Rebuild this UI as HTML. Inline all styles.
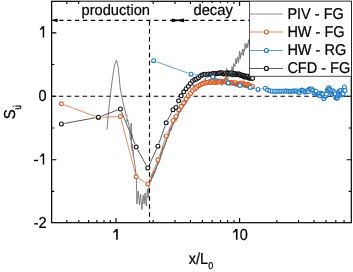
<!DOCTYPE html>
<html><head><meta charset="utf-8"><title>chart</title>
<style>html,body{margin:0;padding:0;background:#fff;overflow:hidden}body{width:353px;height:272px;font-family:"Liberation Sans",sans-serif}</style>
</head><body>
<svg width="353" height="272" viewBox="0 0 353 272" style="display:block;will-change:transform"><defs><clipPath id="c"><rect x="51.65" y="1.3" width="299.65000000000003" height="221.39999999999998"/></clipPath></defs><rect x="51.65" y="1.3" width="299.65000000000003" height="221.39999999999998" fill="none" stroke="#000" stroke-width="1.2"/><path d="M116.00 222.7 v-4.7 M116.00 1.3 v4.7 M239.60 222.7 v-4.7 M239.60 1.3 v4.7 M66.81 222.7 v-2.6 M66.81 1.3 v2.6 M78.79 222.7 v-2.6 M78.79 1.3 v2.6 M88.58 222.7 v-2.6 M88.58 1.3 v2.6 M96.85 222.7 v-2.6 M96.85 1.3 v2.6 M104.02 222.7 v-2.6 M104.02 1.3 v2.6 M110.34 222.7 v-2.6 M110.34 1.3 v2.6 M153.21 222.7 v-2.6 M153.21 1.3 v2.6 M174.97 222.7 v-2.6 M174.97 1.3 v2.6 M190.41 222.7 v-2.6 M190.41 1.3 v2.6 M202.39 222.7 v-2.6 M202.39 1.3 v2.6 M212.18 222.7 v-2.6 M212.18 1.3 v2.6 M220.45 222.7 v-2.6 M220.45 1.3 v2.6 M227.62 222.7 v-2.6 M227.62 1.3 v2.6 M233.94 222.7 v-2.6 M233.94 1.3 v2.6 M276.81 222.7 v-2.6 M276.81 1.3 v2.6 M298.57 222.7 v-2.6 M298.57 1.3 v2.6 M314.01 222.7 v-2.6 M314.01 1.3 v2.6 M325.99 222.7 v-2.6 M325.99 1.3 v2.6 M335.78 222.7 v-2.6 M335.78 1.3 v2.6 M344.05 222.7 v-2.6 M344.05 1.3 v2.6 M51.65 32.84 h4.7 M351.3 32.84 h-4.7 M51.65 96.27 h4.7 M351.3 96.27 h-4.7 M51.65 159.70 h4.7 M351.3 159.70 h-4.7 M51.65 64.55 h2.6 M351.3 64.55 h-2.6 M51.65 127.98 h2.6 M351.3 127.98 h-2.6 M51.65 191.41 h2.6 M351.3 191.41 h-2.6" stroke="#000" stroke-width="1.1" fill="none"/><rect x="79.6" y="2.0" width="70.7" height="16" fill="#fff"/><rect x="79.6" y="1.0" width="70.7" height="1.0" fill="#fff" fill-opacity="0.27"/><rect x="193" y="3.0" width="40" height="15" fill="#fff"/><g stroke="#000" stroke-width="1.15" fill="none"><line x1="50.9" y1="96.27" x2="351.3" y2="96.27" stroke-dasharray="4.5 3.417"/><line x1="149.5" y1="21.0" x2="149.5" y2="222.5" stroke-dasharray="4.5 3.465"/><line x1="51.3" y1="20.4" x2="176" y2="20.4" stroke-dasharray="4.3 3.61"/><line x1="176.5" y1="20.4" x2="250" y2="20.4" stroke-dasharray="4.35 3.62"/></g><path d="M51.6 20.35 L57.6 18.5 L57.6 22.2 Z" fill="#000"/><path d="M171.7 18.5 L171.7 22.2 L177.8 20.95 L184.1 22.2 L184.1 18.5 L177.8 19.75 Z" fill="#000"/><g clip-path="url(#c)"><polyline points="107.0,129.6 108.5,112.0 110.2,96.4 112.5,78.0 114.5,65.0 116.5,60.1 118.3,68.0 120.2,88.0 121.7,96.3 122.6,100.5 124.6,109.0 126.3,115.6 126.8,114.8 127.2,122.0 127.6,119.5 129.3,126.5 130.7,131.5 131.2,123.0 131.7,137.5 132.0,134.0 131.3,140.0 132.3,147.5 132.0,144.0 133.0,152.0 133.5,155.5 134.2,160.0 135.2,167.6 135.8,173.0 136.3,177.0 136.9,204.0 138.2,191.0 139.5,205.0 140.5,194.0 141.9,209.5 143.2,195.0 144.1,204.0 145.0,193.0 146.3,206.0 147.4,189.0 148.2,198.0 148.8,185.0 149.2,182.7 149.8,183.0 150.3,180.7 150.9,180.6 151.4,179.4 152.0,175.2 152.5,173.6 153.1,176.6 153.6,172.2 154.2,170.8 154.7,173.4 155.3,169.4 155.8,170.0 156.4,166.8 156.9,166.3 157.5,162.5 158.0,163.7 158.6,163.6 159.1,160.3 159.7,159.9 160.2,158.0 160.8,153.2 161.3,155.3 161.9,152.8 162.4,149.7 163.0,146.7 163.5,149.5 164.1,145.9 164.6,145.6 165.2,144.8 165.7,142.4 166.3,141.9 166.8,137.6 167.4,138.2 167.9,135.1 168.5,136.4 169.0,134.8 169.6,129.5 170.1,128.5 170.7,127.6 171.2,130.2 171.8,126.2 172.3,126.0 172.9,123.0 173.4,122.8 174.0,120.9 174.5,120.0 175.1,120.5 175.6,119.7 176.2,120.7 176.7,118.8 177.3,118.7 177.8,116.8 178.4,115.9 178.9,112.7 179.5,109.1 180.0,112.0 180.6,111.9 181.1,110.9 181.7,108.4 182.2,108.2 182.8,105.5 183.3,107.2 183.9,105.5 184.4,103.5 185.0,101.7 185.5,103.9 186.1,103.6 186.6,99.2 187.2,101.1 187.7,98.7 188.3,96.8 188.8,96.6 189.4,97.7 189.9,97.3 190.5,93.3 191.0,95.1 191.6,92.3 192.1,90.1 192.7,91.7 193.2,90.8 193.8,84.4 194.3,86.0 194.9,86.7 195.4,85.8 196.0,90.2 196.5,90.7 197.1,85.6 197.6,85.8 198.2,85.8 198.7,85.5 199.3,84.7 199.8,86.4 200.4,82.1 200.9,83.7 201.5,81.3 202.0,83.6 202.6,83.6 203.1,80.7 203.7,82.2 204.2,81.7 204.8,83.1 205.3,78.1 205.9,83.9 206.4,81.5 207.0,81.1 207.5,80.1 208.1,82.6 208.6,80.5 209.2,79.6 209.7,82.4 210.3,78.8 210.8,80.2 211.4,80.6 211.9,79.5 212.5,79.6 213.0,80.9 213.6,79.8 214.1,82.5 214.7,80.9 215.2,77.6 215.8,79.8 216.3,82.4 216.9,79.0 217.4,81.6 218.0,80.4 218.5,79.1 219.1,80.1 219.6,80.3 220.2,80.2 220.7,79.6 221.3,85.1 221.8,83.0 222.4,85.3 222.9,80.0 223.5,82.5 224.0,81.3 224.6,79.8 225.1,77.3 225.7,80.5 226.0,84.7 226.5,74.1 227.5,83.3 228.6,71.4 229.4,76.1 230.4,71.0 231.1,75.3 232.0,66.6 233.1,71.0 233.8,63.5 234.9,66.6 235.9,58.7 236.5,63.8 237.5,57.1 238.5,62.7 239.6,51.2 240.1,59.2 241.1,52.6 241.8,55.2 242.6,49.0 243.4,55.5 244.0,49.1 244.5,51.2 245.1,43.4 246.1,48.6 247.0,43.5 247.7,47.5 248.6,39.8 249.3,44.3 250.0,39.8" fill="none" stroke="#717171" stroke-width="0.9" stroke-linejoin="round"/><polyline points="226.3,74.0 226.5,68.4 226.9,75.0" fill="none" stroke="#717171" stroke-width="0.8" stroke-linejoin="round"/><polyline points="129.6,131.5 130.4,139.5 131.0,137.5 131.4,146.0 132.2,151.0 132.9,149.5 133.2,157.0" fill="none" stroke="#717171" stroke-width="0.8" stroke-linejoin="round"/><polyline points="150.3,182.0 151.3,179.6 152.3,177.2 153.3,174.8 154.3,172.4 155.3,170.0 156.3,167.6 157.3,165.3 158.3,162.9 159.3,160.4 160.3,157.5 161.3,154.7 162.3,151.8 163.3,148.9 164.3,146.1 165.3,143.2 166.3,140.3 167.3,137.5 168.3,135.1 169.3,132.8 170.3,130.5 171.3,128.2 172.3,125.9 173.3,123.6 174.3,121.3 175.3,120.0 176.3,118.7 177.3,117.0 178.3,114.3 179.3,111.5 180.3,110.1 181.3,108.8 182.3,107.5 183.3,106.2 184.3,104.9 185.3,103.3 186.3,101.6 187.3,100.1 188.3,98.5 189.3,97.0 190.3,95.6 191.3,94.5" fill="none" stroke="#717171" stroke-width="1.2" stroke-linejoin="round"/><path d="M64.1 104.9L95.7 116.5M101.3 117.4L117.5 116.6M121.1 119.3L135.5 174.0M138.7 178.3L145.3 182.5M148.9 181.3L156.8 162.5M158.9 157.1L165.2 138.7M167.4 133.3L171.8 123.1M176.9 113.8L177.5 112.4" fill="none" stroke="#dc5a22" stroke-width="0.7"/><g fill="#fff" stroke="#dc5a22" stroke-width="1.12"><circle cx="61.4" cy="103.8" r="1.95"/><circle cx="98.4" cy="117.5" r="1.95"/><circle cx="120.4" cy="116.5" r="1.95"/><circle cx="136.2" cy="176.8" r="1.95"/><circle cx="147.8" cy="184.0" r="1.95"/><circle cx="157.9" cy="159.8" r="1.95"/><circle cx="166.2" cy="136.0" r="1.95"/><circle cx="173.0" cy="120.4" r="1.95"/><circle cx="175.9" cy="116.5" r="1.95"/><circle cx="178.6" cy="109.7" r="1.95"/><circle cx="181.2" cy="106.3" r="1.95"/><circle cx="183.7" cy="102.8" r="1.95"/><circle cx="186.1" cy="99.0" r="1.95"/><circle cx="188.4" cy="95.7" r="1.95"/><circle cx="190.5" cy="93.4" r="1.95"/><circle cx="192.6" cy="90.6" r="1.95"/><circle cx="194.7" cy="88.5" r="1.95"/><circle cx="196.6" cy="87.3" r="1.95"/><circle cx="198.5" cy="85.7" r="1.95"/><circle cx="200.3" cy="84.8" r="1.95"/><circle cx="202.1" cy="83.8" r="1.95"/><circle cx="203.8" cy="83.4" r="1.95"/><circle cx="205.4" cy="82.4" r="1.95"/><circle cx="207.0" cy="82.4" r="1.95"/><circle cx="208.6" cy="81.9" r="1.95"/><circle cx="210.1" cy="82.6" r="1.95"/><circle cx="211.5" cy="82.2" r="1.95"/><circle cx="213.0" cy="81.3" r="1.95"/><circle cx="214.4" cy="82.6" r="1.95"/><circle cx="215.7" cy="82.6" r="1.95"/><circle cx="217.1" cy="82.1" r="1.95"/><circle cx="218.3" cy="82.0" r="1.95"/><circle cx="219.6" cy="81.3" r="1.95"/><circle cx="220.8" cy="81.0" r="1.95"/><circle cx="222.0" cy="81.9" r="1.95"/><circle cx="223.2" cy="81.2" r="1.95"/><circle cx="224.4" cy="81.5" r="1.95"/><circle cx="225.5" cy="81.7" r="1.95"/><circle cx="226.6" cy="81.4" r="1.95"/><circle cx="227.7" cy="82.2" r="1.95"/><circle cx="228.8" cy="82.3" r="1.95"/><circle cx="229.8" cy="83.1" r="1.95"/><circle cx="230.8" cy="82.6" r="1.95"/><circle cx="231.8" cy="83.0" r="1.95"/><circle cx="232.8" cy="82.8" r="1.95"/><circle cx="233.8" cy="83.2" r="1.95"/><circle cx="234.7" cy="82.9" r="1.95"/><circle cx="235.6" cy="82.7" r="1.95"/><circle cx="236.6" cy="84.2" r="1.95"/><circle cx="237.5" cy="84.3" r="1.95"/><circle cx="238.4" cy="84.1" r="1.95"/><circle cx="239.2" cy="83.9" r="1.95"/><circle cx="240.1" cy="83.2" r="1.95"/><circle cx="240.9" cy="83.2" r="1.95"/><circle cx="241.8" cy="83.4" r="1.95"/><circle cx="242.6" cy="83.0" r="1.95"/><circle cx="243.4" cy="84.6" r="1.95"/><circle cx="244.2" cy="84.1" r="1.95"/><circle cx="245.0" cy="85.2" r="1.95"/><circle cx="245.7" cy="84.5" r="1.95"/><circle cx="246.5" cy="85.8" r="1.95"/><circle cx="247.2" cy="85.8" r="1.95"/><circle cx="248.0" cy="84.3" r="1.95"/><circle cx="248.7" cy="84.9" r="1.95"/><circle cx="249.4" cy="86.4" r="1.95"/><circle cx="250.1" cy="85.7" r="1.95"/><circle cx="250.8" cy="86.9" r="1.95"/><circle cx="251.5" cy="86.0" r="1.95"/><circle cx="252.5" cy="86.4" r="1.95"/></g><path d="M64.3 123.5L95.5 117.7M101.1 116.2L117.7 110.0M121.5 111.7L135.1 144.4M137.6 149.6L146.4 165.5M149.0 165.4L156.7 148.8M158.9 143.5L165.2 125.5M167.5 120.2L171.7 112.3M177.0 104.7L177.5 103.5" fill="none" stroke="#111" stroke-width="0.7"/><g fill="#fff" stroke="#111" stroke-width="1.12"><circle cx="61.4" cy="124.0" r="1.95"/><circle cx="98.4" cy="117.2" r="1.95"/><circle cx="120.4" cy="109.0" r="1.95"/><circle cx="136.2" cy="147.1" r="1.95"/><circle cx="147.8" cy="168.0" r="1.95"/><circle cx="157.9" cy="146.2" r="1.95"/><circle cx="166.2" cy="122.8" r="1.95"/><circle cx="173.0" cy="109.7" r="1.95"/><circle cx="175.9" cy="107.4" r="1.95"/><circle cx="178.6" cy="100.8" r="1.95"/><circle cx="181.2" cy="95.8" r="1.95"/><circle cx="183.7" cy="91.8" r="1.95"/><circle cx="186.1" cy="88.7" r="1.95"/><circle cx="188.4" cy="86.3" r="1.95"/><circle cx="190.5" cy="83.5" r="1.95"/><circle cx="192.6" cy="81.0" r="1.95"/><circle cx="194.7" cy="79.6" r="1.95"/><circle cx="196.6" cy="79.0" r="1.95"/><circle cx="198.5" cy="77.7" r="1.95"/><circle cx="200.3" cy="76.0" r="1.95"/><circle cx="202.1" cy="75.1" r="1.95"/><circle cx="203.8" cy="74.5" r="1.95"/><circle cx="205.4" cy="74.2" r="1.95"/><circle cx="207.0" cy="74.9" r="1.95"/><circle cx="208.6" cy="74.0" r="1.95"/><circle cx="210.1" cy="74.4" r="1.95"/><circle cx="211.5" cy="74.1" r="1.95"/><circle cx="213.0" cy="73.6" r="1.95"/><circle cx="214.4" cy="74.2" r="1.95"/><circle cx="215.7" cy="73.2" r="1.95"/><circle cx="217.1" cy="73.8" r="1.95"/><circle cx="218.3" cy="72.9" r="1.95"/><circle cx="219.6" cy="73.2" r="1.95"/><circle cx="220.8" cy="72.8" r="1.95"/><circle cx="222.0" cy="72.8" r="1.95"/><circle cx="223.2" cy="74.0" r="1.95"/><circle cx="224.4" cy="73.8" r="1.95"/><circle cx="225.5" cy="72.9" r="1.95"/><circle cx="226.6" cy="74.0" r="1.95"/><circle cx="227.7" cy="72.8" r="1.95"/><circle cx="228.8" cy="73.1" r="1.95"/><circle cx="229.8" cy="74.0" r="1.95"/><circle cx="230.8" cy="73.7" r="1.95"/><circle cx="231.8" cy="72.8" r="1.95"/><circle cx="232.8" cy="74.8" r="1.95"/><circle cx="233.8" cy="73.4" r="1.95"/><circle cx="234.7" cy="73.6" r="1.95"/><circle cx="235.6" cy="74.8" r="1.95"/><circle cx="236.6" cy="74.1" r="1.95"/><circle cx="237.5" cy="74.2" r="1.95"/><circle cx="238.4" cy="73.9" r="1.95"/><circle cx="239.2" cy="74.1" r="1.95"/><circle cx="240.1" cy="75.2" r="1.95"/><circle cx="240.9" cy="74.7" r="1.95"/><circle cx="241.8" cy="75.6" r="1.95"/><circle cx="242.6" cy="75.2" r="1.95"/><circle cx="243.4" cy="75.6" r="1.95"/><circle cx="244.2" cy="76.9" r="1.95"/><circle cx="245.0" cy="76.1" r="1.95"/><circle cx="245.7" cy="76.5" r="1.95"/><circle cx="246.5" cy="77.3" r="1.95"/><circle cx="247.2" cy="76.2" r="1.95"/><circle cx="248.0" cy="76.3" r="1.95"/><circle cx="248.7" cy="78.1" r="1.95"/><circle cx="249.4" cy="78.1" r="1.95"/><circle cx="250.1" cy="77.2" r="1.95"/><circle cx="250.8" cy="77.2" r="1.95"/><circle cx="251.5" cy="78.5" r="1.95"/><circle cx="252.6" cy="78.3" r="1.95"/></g><path d="M156.3 61.7L188.3 73.2M193.9 74.6L209.9 76.6M215.5 78.0L225.5 81.9M231.0 83.5L237.1 84.9M242.8 86.0L247.4 86.9M253.1 88.1L255.2 88.7M260.9 88.9L262.5 88.7" fill="none" stroke="#1d7ac6" stroke-width="0.7"/><g fill="#fff" stroke="#1d7ac6" stroke-width="1.12"><circle cx="153.6" cy="60.7" r="1.95"/><circle cx="191.0" cy="74.2" r="1.95"/><circle cx="212.8" cy="77.0" r="1.95"/><circle cx="228.2" cy="82.9" r="1.95"/><circle cx="239.9" cy="85.5" r="1.95"/><circle cx="250.3" cy="87.4" r="1.95"/><circle cx="258.0" cy="89.4" r="1.95"/><circle cx="265.4" cy="88.2" r="1.95"/><circle cx="267.5" cy="90.1" r="1.95"/><circle cx="269.9" cy="90.8" r="1.95"/><circle cx="272.3" cy="91.2" r="1.95"/><circle cx="274.6" cy="91.2" r="1.95"/><circle cx="276.8" cy="91.2" r="1.95"/><circle cx="278.9" cy="91.3" r="1.95"/><circle cx="280.9" cy="91.2" r="1.95"/><circle cx="282.9" cy="91.3" r="1.95"/><circle cx="284.8" cy="90.9" r="1.95"/><circle cx="286.6" cy="91.1" r="1.95"/><circle cx="288.4" cy="91.3" r="1.95"/><circle cx="290.1" cy="91.2" r="1.95"/><circle cx="291.7" cy="91.3" r="1.95"/><circle cx="293.3" cy="90.9" r="1.95"/><circle cx="294.9" cy="91.1" r="1.95"/><circle cx="296.4" cy="91.0" r="1.95"/><circle cx="297.9" cy="91.8" r="1.95"/><circle cx="299.3" cy="92.5" r="1.95"/><circle cx="300.7" cy="90.5" r="1.95"/><circle cx="302.0" cy="90.1" r="1.95"/><circle cx="303.4" cy="90.8" r="1.95"/><circle cx="304.7" cy="92.0" r="1.95"/><circle cx="305.9" cy="91.7" r="1.95"/><circle cx="307.2" cy="90.6" r="1.95"/><circle cx="308.4" cy="91.5" r="1.95"/><circle cx="309.5" cy="89.1" r="1.95"/><circle cx="310.7" cy="89.3" r="1.95"/><circle cx="311.8" cy="89.0" r="1.95"/><circle cx="312.9" cy="90.3" r="1.95"/><circle cx="314.0" cy="92.9" r="1.95"/><circle cx="315.1" cy="91.2" r="1.95"/><circle cx="316.1" cy="91.4" r="1.95"/><circle cx="317.1" cy="94.5" r="1.95"/><circle cx="318.1" cy="94.8" r="1.95"/><circle cx="319.1" cy="93.5" r="1.95"/><circle cx="320.1" cy="95.7" r="1.95"/><circle cx="321.0" cy="93.3" r="1.95"/><circle cx="322.0" cy="94.3" r="1.95"/><circle cx="322.9" cy="94.1" r="1.95"/><circle cx="323.8" cy="98.8" r="1.95"/><circle cx="324.7" cy="96.3" r="1.95"/><circle cx="325.6" cy="95.9" r="1.95"/><circle cx="326.4" cy="94.2" r="1.95"/><circle cx="327.3" cy="90.3" r="1.95"/><circle cx="328.1" cy="89.2" r="1.95"/><circle cx="328.9" cy="87.8" r="1.95"/><circle cx="329.7" cy="89.2" r="1.95"/><circle cx="330.5" cy="90.4" r="1.95"/><circle cx="331.3" cy="92.2" r="1.95"/><circle cx="332.1" cy="94.1" r="1.95"/><circle cx="332.8" cy="90.8" r="1.95"/><circle cx="333.6" cy="92.9" r="1.95"/><circle cx="334.3" cy="91.9" r="1.95"/><circle cx="335.1" cy="93.8" r="1.95"/><circle cx="335.8" cy="97.8" r="1.95"/><circle cx="336.5" cy="98.3" r="1.95"/><circle cx="337.2" cy="97.7" r="1.95"/><circle cx="337.9" cy="95.9" r="1.95"/><circle cx="338.6" cy="94.5" r="1.95"/><circle cx="339.2" cy="91.1" r="1.95"/><circle cx="339.9" cy="94.4" r="1.95"/><circle cx="340.6" cy="90.6" r="1.95"/><circle cx="341.2" cy="93.7" r="1.95"/><circle cx="341.9" cy="94.9" r="1.95"/><circle cx="342.5" cy="92.3" r="1.95"/><circle cx="343.1" cy="93.9" r="1.95"/><circle cx="343.7" cy="89.6" r="1.95"/><circle cx="344.4" cy="86.9" r="1.95"/><circle cx="345.0" cy="90.5" r="1.95"/></g></g><rect x="249.55" y="1.0" width="101.5" height="75.3" fill="#fff"/><path d="M249.55 1.0 V76.3 H351.0" fill="none" stroke="#222" stroke-width="0.8"/><path d="M249.55 1.5 H351" fill="none" stroke="#000" stroke-width="1" stroke-opacity="0.52"/><line x1="249.85000000000002" y1="14.0" x2="283" y2="14.0" stroke="#b4b4b4" stroke-width="1.7"/><path d="M249.85000000000002 32.0H283" stroke="#dc5a22" stroke-width="0.7"/><circle cx="266.4" cy="31.95" r="2.0" fill="#fff" stroke="#dc5a22" stroke-width="1.15"/><path d="M249.85000000000002 50.5H283" stroke="#1d7ac6" stroke-width="0.7"/><circle cx="266.4" cy="50.45" r="2.0" fill="#fff" stroke="#1d7ac6" stroke-width="1.15"/><path d="M249.85000000000002 68.45H283" stroke="#111" stroke-width="0.7"/><circle cx="266.4" cy="68.4" r="2.0" fill="#fff" stroke="#111" stroke-width="1.15"/><defs><clipPath id="lc"><rect x="249.55" y="1.4" width="101.34999999999997" height="74.89999999999999"/></clipPath></defs><g font-family="Liberation Sans, sans-serif" fill="#000" clip-path="url(#lc)"><text transform="translate(287.4,19.0) scale(1,1.08)" text-anchor="start" font-size="14.5" text-rendering="geometricPrecision" stroke="#000" stroke-width="0.22" >PIV - FG</text><text transform="translate(287.4,37.0) scale(1,1.08)" text-anchor="start" font-size="14.5" text-rendering="geometricPrecision" stroke="#000" stroke-width="0.22" >HW - FG</text><text transform="translate(287.4,55.3) scale(1,1.08)" text-anchor="start" font-size="14.5" text-rendering="geometricPrecision" stroke="#000" stroke-width="0.22" >HW - RG</text><text transform="translate(287.4,73.4) scale(1,1.08)" text-anchor="start" font-size="14.5" text-rendering="geometricPrecision" stroke="#000" stroke-width="0.22" >CFD - FG</text></g><g font-family="Liberation Sans, sans-serif" fill="#000"><text transform="translate(46.6,101.2) scale(1,1.1)" text-anchor="end" font-size="14.5" text-rendering="geometricPrecision" stroke="#000" stroke-width="0.22" >0</text><text transform="translate(46.6,228.0) scale(1,1.1)" text-anchor="end" font-size="14.5" text-rendering="geometricPrecision" stroke="#000" stroke-width="0.22" >-2</text><path d="M42.70 26.34H44.20V37.54H42.70V28.54C41.80 29.34 40.80 29.94 39.85 30.29V28.94C40.60 28.54 41.50 27.64 42.00 26.34Z" fill="#000"/><path d="M42.70 153.40H44.20V164.40H42.70V155.60C41.80 156.40 40.80 157.00 39.85 157.35V156.00C40.60 155.60 41.50 154.70 42.00 153.40Z" fill="#000"/><rect x="34.0" y="159.80" width="4.1" height="1.35" fill="#000"/><path d="M116.20 228.95H117.80V239.85H116.20V231.15C115.30 231.95 114.30 232.55 113.35 232.90V231.55C114.10 231.15 115.00 230.25 115.50 228.95Z" fill="#000"/><path d="M235.90 228.95H237.50V239.85H235.90V231.15C235.00 231.95 234.00 232.55 233.05 232.90V231.55C233.80 231.15 234.70 230.25 235.20 228.95Z" fill="#000"/><text transform="translate(239.7,240.0) scale(1,1.1)" text-anchor="start" font-size="14.5" text-rendering="geometricPrecision" stroke="#000" stroke-width="0.22" >0</text><text transform="translate(81.5,15.0) scale(1,1.04)" text-anchor="start" font-size="14.5" text-rendering="geometricPrecision" stroke="#000" stroke-width="0.22" textLength="68.5" lengthAdjust="spacingAndGlyphs">production</text><text transform="translate(193.4,15.0) scale(1,1.03)" text-anchor="start" font-size="14.8" text-rendering="geometricPrecision" stroke="#000" stroke-width="0.22" >decay</text><text transform="translate(188.8,263.9) scale(1,1.1)" text-anchor="start" font-size="14.5" text-rendering="geometricPrecision" stroke="#000" stroke-width="0.22" >x/L<tspan font-size="9" dy="4.5">0</tspan></text><g transform="translate(14.55,119.3) rotate(-90)" text-rendering="geometricPrecision" stroke="#000"><text font-size="14.9" stroke-width="0.3" transform="scale(1,1.06)">S</text><text x="9.9" y="4.75" font-size="7.5" stroke-width="0.25" transform="scale(1,1.38)">u</text></g></g><path d="M14.0 105.5 L12.8 107.1" stroke="#000" stroke-width="0.9"/></svg>
</body></html>
